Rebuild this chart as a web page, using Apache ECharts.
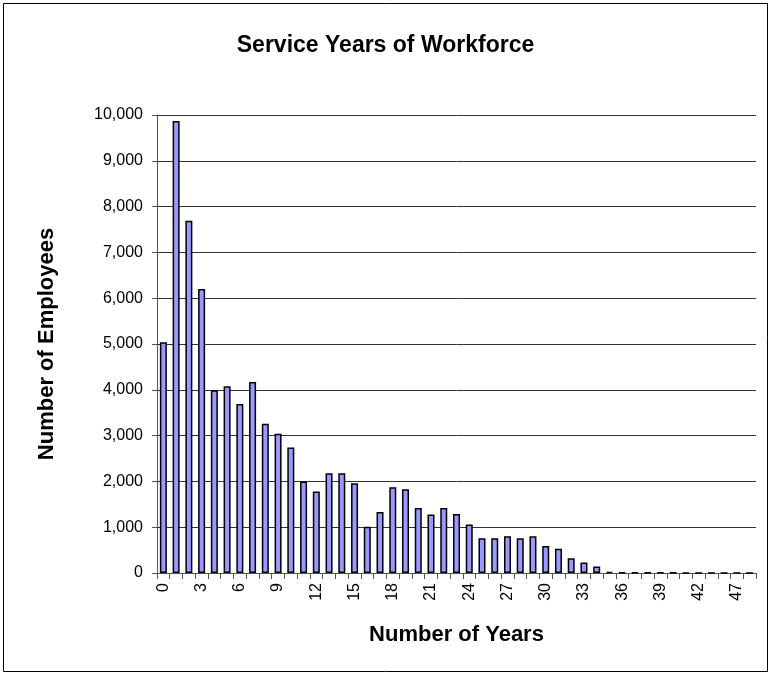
<!DOCTYPE html>
<html>
<head>
<meta charset="utf-8">
<script src="https://cdn.jsdelivr.net/npm/echarts@6/dist/echarts.min.js"></script>
<style>
  html, body { margin: 0; padding: 0; background: #fff; }
  #chart { width: 771px; height: 675px; }
</style>
</head>
<body>
<div id="chart"></div>
<script>
// Years of service (category labels)
const years = [
  '0','1','2','3','4','5','6','7','8','9',
  '10','11','12','13','14','15','16','17','18','19',
  '20','21','22','23','24','25','26','27','28','29',
  '30','31','32','33','34','35','36','37','38','39',
  '40','41','42','44','45','47','50'
];

// Number of employees for each service year
const employees = [
  5040, 9870, 7690, 6200, 3990, 4080, 3690, 4170, 3260, 3040,
  2740, 2000, 1780, 2180, 2180, 1960, 1010, 1330, 1870, 1830,
  1420, 1280, 1420, 1290, 1060, 760, 760, 800, 760, 800,
  590, 530, 320, 230, 140, 25, 15, 12, 10, 10,
  6, 4, 3, 2, 2, 1, 1
];

const chartTitle = 'Service Years of Workforce';
const xTitle = 'Number of Years';
const yTitle = 'Number of Employees';

const chart = echarts.init(document.getElementById('chart'), null, { renderer: 'canvas' });
const FONT = '"Liberation Sans", Arial, sans-serif';

chart.setOption({
  animation: false,
  backgroundColor: '#ffffff',
  graphic: [{
    type: 'rect',
    shape: { x: 3.5, y: 3.5, width: 764, height: 668 },
    style: { fill: 'none', stroke: '#000', lineWidth: 1 },
    silent: true
  }],
  title: {
    text: chartTitle,
    left: 'center',
    top: 29,
    textStyle: { fontFamily: FONT, fontSize: 23, fontWeight: 'bold', color: '#000' }
  },
  grid: { left: 157, top: 115, right: 15, bottom: 102, containLabel: false },
  xAxis: {
    type: 'category',
    data: years,
    name: xTitle,
    nameLocation: 'middle',
    nameGap: 51,
    nameTextStyle: { fontFamily: FONT, fontSize: 22, fontWeight: 'bold', color: '#000' },
    axisLine: { show: true, lineStyle: { color: '#555', width: 1 } },
    axisTick: { show: true, interval: 0, alignWithLabel: false, length: 6, lineStyle: { color: '#555' } },
    axisLabel: {
      interval: 2,
      rotate: 90,
      margin: 10,
      fontFamily: FONT, fontSize: 16, color: '#000'
    },
    splitLine: { show: false }
  },
  yAxis: {
    type: 'value',
    min: 0,
    max: 10000,
    interval: 1000,
    name: yTitle,
    nameLocation: 'middle',
    nameGap: 99,
    nameTextStyle: { fontFamily: FONT, fontSize: 22, fontWeight: 'bold', color: '#000' },
    axisLine: { show: true, lineStyle: { color: '#555', width: 1 } },
    axisTick: { show: true, inside: false, length: 5, lineStyle: { color: '#555' } },
    axisLabel: {
      margin: 14,
      fontFamily: FONT, fontSize: 16, color: '#000',
      formatter: v => v.toLocaleString('en-US')
    },
    splitLine: { show: true, lineStyle: { color: '#333', width: 1 } }
  },
  series: [{
    type: 'bar',
    data: employees,
    barCategoryGap: '45%',
    itemStyle: { color: '#9999ff', borderColor: '#000', borderWidth: 1.5 }
  }]
});
</script>
</body>
</html>
